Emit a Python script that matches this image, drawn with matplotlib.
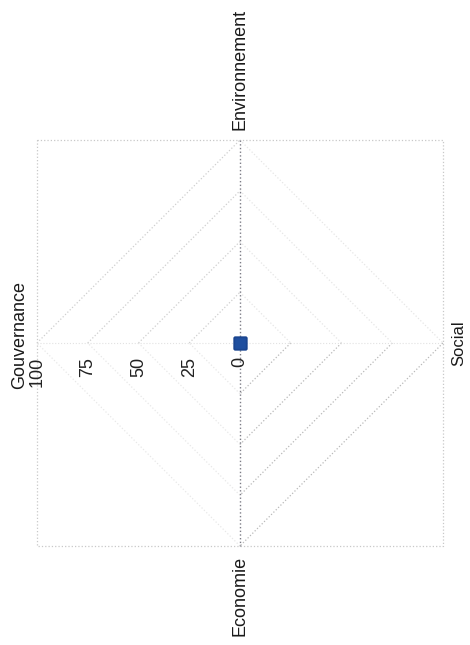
import numpy as np
import matplotlib.pyplot as plt

plt.rcParams['font.family'] = ['Liberation Sans', 'DejaVu Sans']

# Radar data (the scan shows every score at 0)
categories = ['Gouvernance', 'Environnement', 'Social', 'Economie']
values = [0, 0, 0, 0]
ring_levels = [25, 50, 75, 100]
tick_values = [0, 25, 50, 75, 100]
tick_labels = ['0', '25', '50', '75', '100']

# The page is scanned sideways: Gouvernance points left, Environnement up
angles = np.radians([180, 90, 0, 270])
ux = np.cos(angles)
uy = np.sin(angles)

fig = plt.figure(figsize=(4.70, 6.45), dpi=100)
ax = fig.add_axes([0, 0, 1, 1])
ax.set_xlim(-118.2, 113.3)
ax.set_ylim(-148.8, 169.0)
ax.axis('off')

R = ring_levels[-1]

# plot area border
ax.plot([-R, R, R, -R, -R], [R, R, -R, -R, R], color='#c8c8c8', lw=0.9,
        linestyle=':')

# diamond gridlines, the scan has faded unevenly from quadrant to quadrant
quad_colors = ['#cfcfcf', '#e6e6e6', '#b9b9b9', '#e8e8e8']
for lev in ring_levels:
    for i in range(4):
        j = (i + 1) % 4
        ax.plot([lev * ux[i], lev * ux[j]], [lev * uy[i], lev * uy[j]],
                color=quad_colors[i], lw=0.9, linestyle=':')

# spokes
ax.plot([R * ux[1], R * ux[3]], [R * uy[1], R * uy[3]], color='#7c7c86',
        lw=1.0, linestyle=':')
ax.plot([R * ux[0], R * ux[2]], [R * uy[0], R * uy[2]], color='#e2e2e2',
        lw=0.8, linestyle=':')

# value axis labels along Gouvernance
for v, lab in zip(tick_values, tick_labels):
    ax.annotate(lab, (v * ux[0], v * uy[0]), xytext=(0, -10),
                textcoords='offset points', rotation=90, ha='center',
                va='top', fontsize=13, color='#222222')

# category labels
offsets = [(-6, 6), (0, 7), (6, 0), (0, -7)]
aligns = [('right', 'center'), ('center', 'bottom'), ('left', 'center'),
          ('center', 'top')]
for i, cat in enumerate(categories):
    ax.annotate(cat, (R * ux[i], R * uy[i]), xytext=offsets[i],
                textcoords='offset points', rotation=90, ha=aligns[i][0],
                va=aligns[i][1], fontsize=13 if i != 2 else 12,
                color='#1a1a1a')

# series
sx = np.append(np.array(values) * ux, values[0] * ux[0])
sy = np.append(np.array(values) * uy, values[0] * uy[0])
ax.plot(sx, sy, color='#1f4f9f', lw=1.5, marker='s', markersize=8,
        markerfacecolor='#1f4f9f', markeredgecolor='#1a4590')

fig.savefig('out.png', dpi=100)
